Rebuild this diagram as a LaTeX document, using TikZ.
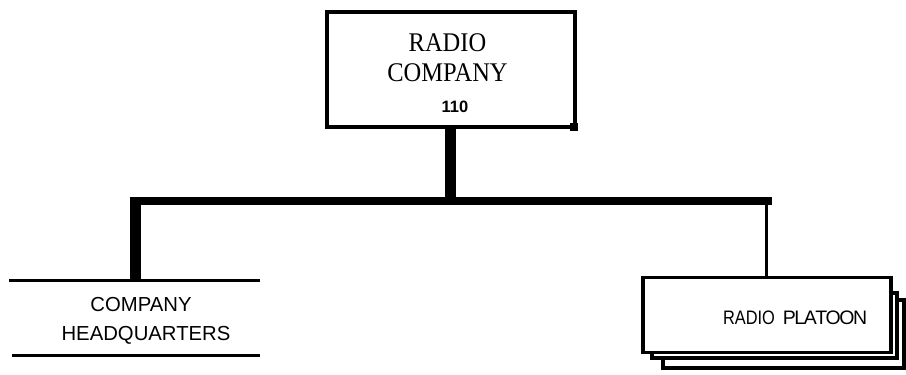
\documentclass[tikz,border=0pt]{standalone}
\usepackage{fontspec}
\setmainfont{Liberation Serif}
\newfontfamily\arialf{Liberation Sans}
\begin{document}
\begin{tikzpicture}[x=1pt,y=-1pt,
  txt/.style={inner sep=0pt,anchor=base},
  frame/.style={draw=black,line width=4pt,inner sep=0pt},
  pbox/.style={draw=black,fill=white,line width=3.5pt,inner sep=0pt},
  rule/.style={line width=3pt},
  thickbar/.style={line width=11pt},
  hbar/.style={line width=8.5pt}]
\useasboundingbox[fill=white] (0,0) rectangle (906,375);
% top box
\node[frame,minimum width=248pt,minimum height=114.5pt] (rc) at (451,69.25) {};
\node[fill=black,minimum size=8pt,inner sep=0pt] (rcsq) at (573.5,127) {};
\node[txt] (rct1) at (447.5,51.7) {\fontsize{24.5}{28}\selectfont\scalebox{1}[1.1]{RADIO}};
\node[txt] (rct2) at (447.5,81.7) {\fontsize{24.5}{28}\selectfont\scalebox{1}[1.1]{COMPANY}};
\node[txt] (rct3) at (455,112) {\arialf\bfseries\fontsize{16.5}{19}\selectfont 110};
% bar coordinates
\coordinate (barC) at (450.5,201);
\coordinate (barL) at (135,201);
\coordinate (barR) at (772,201);
\coordinate (barP) at (766,201);
% HQ
\coordinate (hqNW) at (9,280);
\coordinate (hqNE) at (260,280);
\coordinate (hqSW) at (12,355);
\coordinate (hqSE) at (260,355);
\coordinate (hqTop) at (135,278.5);
\node[txt] (hq1) at (141,311) {\arialf\fontsize{20.3}{24}\selectfont COMPANY};
\node[txt] (hq2) at (146,340) {\arialf\fontsize{20.3}{24}\selectfont HEADQUARTERS};
\draw[rule] (hqNW) -- (hqNE);
\draw[rule] (hqSW) -- (hqSE);
% platoon stack
\node[pbox,minimum width=241pt,minimum height=68pt] (pl3) at (783.5,334) {};
\node[pbox,minimum width=245pt,minimum height=65pt] (pl2) at (774.5,325.5) {};
\node[pbox,minimum width=248pt,minimum height=75pt] (pl) at (767,315) {};
\node[txt] (plt1) at (749,324) {\arialf\fontsize{19.5}{23}\selectfont\scalebox{0.84}[1]{RADIO}};
\node[txt] (plt2) at (825,324) {\arialf\fontsize{19.5}{23}\selectfont P\kern-1.5pt L\kern-1.5pt A\kern-1.5pt T\kern-1.5pt O\kern-1.5pt O\kern-1.5pt N};
% connectors
\draw[thickbar] (rc.south -| barC) -- (barC);
\draw[hbar] ([xshift=-5.5pt]barL) -- (barR);
\draw[thickbar] ([yshift=-2pt]barL) -- (hqTop);
\draw[line width=3pt] (barP) -- (pl.north -| barP);
\end{tikzpicture}
\end{document}
